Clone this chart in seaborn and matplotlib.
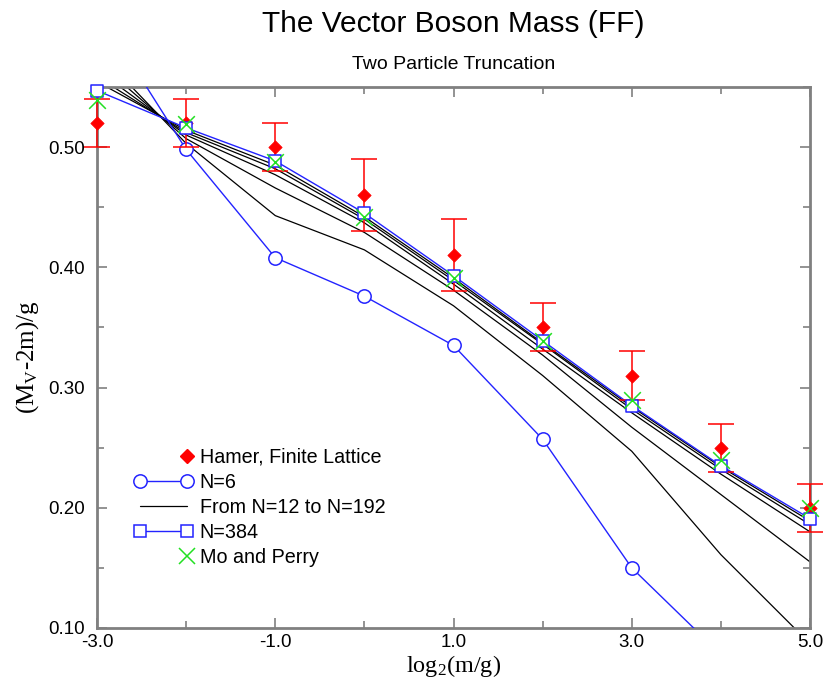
import matplotlib
matplotlib.use("Agg")
import matplotlib.pyplot as plt
from matplotlib.lines import Line2D
from matplotlib.legend_handler import HandlerLine2DCompound
import seaborn as sns
import pandas as pd

# ---------------- data ----------------
log2_mg = [-3, -2, -1, 0, 1, 2, 3, 4, 5]

hamer_val = [0.52, 0.52, 0.50, 0.46, 0.41, 0.35, 0.31, 0.25, 0.20]
hamer_err = [0.02, 0.02, 0.02, 0.03, 0.03, 0.02, 0.02, 0.02, 0.02]

n6_x = [-3, -2, -1, 0, 1, 2, 3, 4]
n6_val = [0.615, 0.498, 0.408, 0.376, 0.335, 0.257, 0.150, 0.078]

n12_val = [0.580, 0.503, 0.443, 0.4145, 0.368, 0.310, 0.247, 0.161, 0.087]
n24_val = [0.5715, 0.507, 0.466, 0.429, 0.381, 0.327, 0.267, 0.211, 0.155]
n48_val = [0.564, 0.510, 0.477, 0.437, 0.386, 0.332, 0.279, 0.228, 0.180]
n96_val = [0.5585, 0.512, 0.482, 0.440, 0.389, 0.336, 0.282, 0.232, 0.186]
n192_val = [0.5544, 0.514, 0.485, 0.442, 0.391, 0.337, 0.284, 0.234, 0.189]

n384_val = [0.547, 0.516, 0.4885, 0.445, 0.393, 0.339, 0.285, 0.235, 0.191]
mo_perry_val = [0.539, 0.519, 0.488, 0.442, 0.391, 0.339, 0.290, 0.240, 0.200]

x_major = [-3, -1, 1, 3, 5]
x_major_labels = ["-3.0", "-1.0", "1.0", "3.0", "5.0"]
x_minor = [-2, 0, 2, 4]
y_major = [0.10, 0.20, 0.30, 0.40, 0.50]
y_major_labels = ["0.10", "0.20", "0.30", "0.40", "0.50"]
y_minor = [0.15, 0.25, 0.35, 0.45, 0.55]

legend_labels = ["Hamer, Finite Lattice", "N=6", "From N=12 to N=192",
                 "N=384", "Mo and Perry"]

# ---------------- style ----------------
sns.set_style("ticks")
plt.rcParams["font.family"] = ["Liberation Sans", "DejaVu Sans"]
plt.rcParams["mathtext.default"] = "regular"
plt.rcParams["text.color"] = "black"
plt.rcParams["axes.labelcolor"] = "black"
plt.rcParams["xtick.color"] = "black"
plt.rcParams["ytick.color"] = "black"

BLUE = "#2323ff"
RED = "#ff0000"
GREEN = "#22e022"
SPINE = "#808080"

fig = plt.figure(figsize=(8.23, 6.87), dpi=100)
ax = fig.add_axes([0.1179, 0.0859, 0.8663, 0.7875])

# truncation curves N=12 ... N=192 (black)
for vals in [n12_val, n24_val, n48_val, n96_val, n192_val]:
    df = pd.DataFrame({"x": log2_mg, "y": vals})
    sns.lineplot(data=df, x="x", y="y", ax=ax, color="black", lw=0.9,
                 estimator=None, sort=False, legend=False, zorder=2)

# N=6 (blue, open circles)
df6 = pd.DataFrame({"x": n6_x, "y": n6_val})
sns.lineplot(data=df6, x="x", y="y", ax=ax, color=BLUE, lw=1.0,
             marker="o", markersize=9.6, markerfacecolor="white",
             markeredgecolor=BLUE, markeredgewidth=1.1,
             estimator=None, sort=False, legend=False, zorder=3)

# N=384 line (clipped) + squares (not clipped)
df384 = pd.DataFrame({"x": log2_mg, "y": n384_val})
sns.lineplot(data=df384, x="x", y="y", ax=ax, color=BLUE, lw=1.0,
             estimator=None, sort=False, legend=False, zorder=3)

# Hamer finite lattice: error bars and diamonds
eb = ax.errorbar(log2_mg, hamer_val, yerr=hamer_err, fmt="none",
                 ecolor=RED, elinewidth=1.1, capsize=9.4, capthick=1.1,
                 zorder=4)
for art in eb.lines[1] + eb.lines[2]:
    art.set_clip_on(False)
sns.scatterplot(x=log2_mg, y=hamer_val, ax=ax, marker="D", s=6.8 ** 2,
                color=RED, edgecolor=RED, linewidth=0.5, clip_on=False,
                zorder=5, legend=False)

sns.scatterplot(x=log2_mg, y=n384_val, ax=ax, marker="s", s=8.6 ** 2,
                facecolor="white", edgecolor=BLUE, linewidth=1.1,
                clip_on=False, zorder=6, legend=False)

# Mo and Perry
sns.scatterplot(x=log2_mg, y=mo_perry_val, ax=ax, marker="x", s=12 ** 2,
                color=GREEN, linewidth=1.1, clip_on=False, zorder=7,
                legend=False)

# ---------------- axes ----------------
ax.set_xlim(-3, 5)
ax.set_ylim(0.10, 0.55)
ax.set_xticks(x_major)
ax.set_xticklabels(x_major_labels)
ax.set_xticks(x_minor, minor=True)
ax.set_yticks(y_major)
ax.set_yticklabels(y_major_labels)
ax.set_yticks(y_minor, minor=True)
ax.tick_params(which="both", direction="in", top=True, right=True,
               color=SPINE, width=1.2, labelsize=13.5, labelcolor="black")
ax.tick_params(which="major", length=7)
ax.tick_params(which="minor", length=5)
ax.tick_params(axis="x", pad=4)
ax.tick_params(axis="y", pad=9)
for sp in ax.spines.values():
    sp.set_visible(True)
    sp.set_color(SPINE)
    sp.set_linewidth(2.0)

ax.set_xlabel("log$_2$(m/g)", family=["Liberation Serif"], fontsize=17.5,
              va="center", color="black")
ax.xaxis.set_label_coords(0.5, -0.07)
ax.set_ylabel("(M$_V$-2m)/g", family=["Liberation Serif"], fontsize=18,
              va="center", color="black")
ax.yaxis.set_label_coords(-0.097, 0.5)

fig.text(0.551, 0.965, "The Vector Boson Mass (FF)", ha="center",
         va="center", fontsize=21.5, color="black")
fig.text(0.551, 0.906, "Two Particle Truncation", ha="center",
         va="center", fontsize=14, color="black")

# ---------------- legend ----------------
class RightMarker(HandlerLine2DCompound):
    def get_xdata(self, legend, xdescent, ydescent, width, height, fontsize):
        xdata, _ = super().get_xdata(legend, xdescent, ydescent, width,
                                     height, fontsize)
        return xdata, [xdata[-1]]

h_hamer = Line2D([], [], ls="none", marker="D", markersize=6.8, color=RED)
h_n6 = Line2D([], [], color=BLUE, lw=1.0, marker="o", markersize=9.6,
              markerfacecolor="white", markeredgecolor=BLUE,
              markeredgewidth=1.1)
h_black = Line2D([], [], color="black", lw=0.9)
h_n384 = Line2D([], [], color=BLUE, lw=1.0, marker="s", markersize=8.6,
                markerfacecolor="white", markeredgecolor=BLUE,
                markeredgewidth=1.1)
h_mp = Line2D([], [], ls="none", marker="x", markersize=12, color=GREEN,
              markeredgewidth=1.1)

leg = ax.legend([h_hamer, h_n6, h_black, h_n384, h_mp], legend_labels,
                loc="upper left", bbox_to_anchor=(0.052, 0.333),
                frameon=False, fontsize=14.2, numpoints=2,
                handlelength=2.97, handletextpad=0.35, labelspacing=0.31,
                borderpad=0, borderaxespad=0,
                handler_map={h_hamer: RightMarker(), h_mp: RightMarker()})
for t in leg.get_texts():
    t.set_color("black")

fig.savefig("out.png", dpi=100)
